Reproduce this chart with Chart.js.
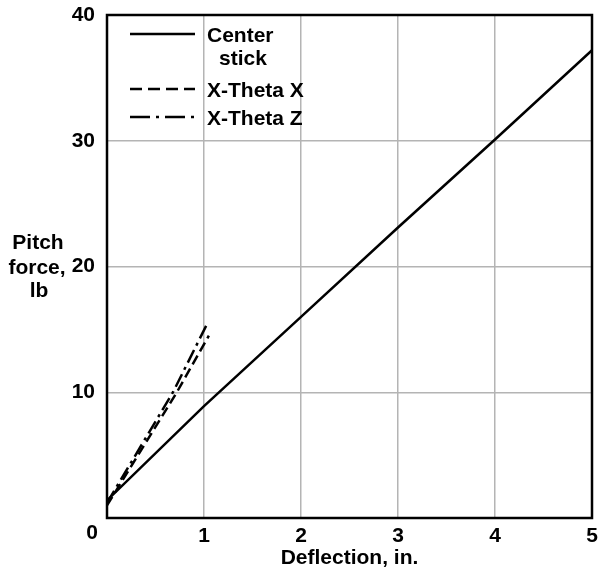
<!DOCTYPE html>
<html>
<head>
<meta charset="utf-8">
<script src="https://cdn.jsdelivr.net/npm/chart.js@4"></script>
<style>
  html, body { margin: 0; padding: 0; background: #fff; }
  #wrap { width: 603px; height: 577px; }
</style>
</head>
<body>
<div id="wrap"><canvas id="forceChart" width="603" height="577"></canvas></div>
<script>
  // values
  const centerX = [0, 1, 2, 3, 4, 5];
  const centerY = [1.4, 8.9, 16, 23.1, 30.1, 37.2];
  const thetaXX = [0, 0.72, 1.05];
  const thetaXY = [1.0, 10, 14.5];
  const thetaZX = [0, 0.68, 1.03];
  const thetaZY = [1.2, 10, 15.4];
  const xTicks = [0, 1, 2, 3, 4, 5];
  const yTicks = [0, 10, 20, 30, 40];
  const seriesNames = ['Center', 'X-Theta X', 'X-Theta Z'];

  const FONT = '"Liberation Sans", Arial, Helvetica, sans-serif';
  const boldFont = { family: FONT, size: 21, weight: 'bold' };

  function toPoints(xs, ys) {
    return xs.map((x, i) => ({ x: x, y: ys[i] }));
  }

  // draws the box, legend and the free-standing labels
  const extras = {
    id: 'extras',
    afterDraw(chart) {
      const ctx = chart.ctx;
      const area = chart.chartArea;
      const xs = chart.scales.x;

      ctx.save();
      ctx.strokeStyle = '#000';
      ctx.lineWidth = 2.5;
      ctx.strokeRect(area.left, area.top, area.right - area.left, area.bottom - area.top);

      ctx.font = 'bold 21px ' + FONT;
      ctx.fillStyle = '#000';
      ctx.textBaseline = 'alphabetic';

      // legend
      const sets = chart.data.datasets;
      const rows = [34, 89, 117];
      ctx.textAlign = 'left';
      sets.forEach((ds, i) => {
        ctx.beginPath();
        ctx.setLineDash(ds.legendDash || []);
        ctx.lineWidth = ds.borderWidth;
        ctx.strokeStyle = ds.borderColor;
        ctx.moveTo(130, rows[i]);
        ctx.lineTo(195, rows[i]);
        ctx.stroke();
        ctx.fillText(seriesNames[i], 207, rows[i] + 8);
      });
      ctx.setLineDash([]);
      ctx.fillText('stick', 219, 65);

      // origin label, set off to the left
      ctx.textAlign = 'center';
      ctx.fillText('0', xs.getPixelForValue(0) - 15, 539);

      // axis titles
      ctx.fillText('Deflection, in.', (area.left + area.right) / 2, 564);
      ctx.fillText('Pitch', 38, 249);
      ctx.fillText('force,', 37, 274);
      ctx.fillText('lb', 39, 297);
      ctx.restore();
    }
  };

  new Chart(document.getElementById('forceChart'), {
    type: 'line',
    data: {
      datasets: [
        {
          label: 'Center stick',
          data: toPoints(centerX, centerY),
          borderColor: '#000',
          borderWidth: 2.5,
          pointRadius: 0,
          tension: 0
        },
        {
          label: 'X-Theta X',
          data: toPoints(thetaXX, thetaXY),
          borderColor: '#000',
          borderWidth: 2.5,
          borderDash: [10, 5],
          legendDash: [12, 6],
          pointRadius: 0,
          tension: 0
        },
        {
          label: 'X-Theta Z',
          data: toPoints(thetaZX, thetaZY),
          borderColor: '#000',
          borderWidth: 2.5,
          borderDash: [14, 5, 3, 5],
          legendDash: [20, 6, 3, 6],
          pointRadius: 0,
          tension: 0
        }
      ]
    },
    options: {
      responsive: false,
      animation: false,
      layout: { padding: { top: 15, right: 11, left: 0, bottom: 0 } },
      plugins: {
        legend: { display: false },
        tooltip: { enabled: false }
      },
      scales: {
        x: {
          type: 'linear',
          min: 0,
          max: 5,
          afterBuildTicks: (s) => { s.ticks = xTicks.map(v => ({ value: v })); },
          afterFit: (s) => { s.height = 59; s.paddingLeft = 0; s.paddingRight = 0; },
          grid: { color: '#b4b4b4', lineWidth: 1.5, drawTicks: false },
          border: { display: false },
          ticks: {
            font: boldFont,
            color: '#000',
            padding: 6,
            maxRotation: 0,
            callback: (v) => (v === 0 ? '' : String(v))
          }
        },
        y: {
          type: 'linear',
          min: 0,
          max: 40,
          afterBuildTicks: (s) => { s.ticks = yTicks.map(v => ({ value: v })); },
          afterFit: (s) => { s.width = 107; s.paddingTop = 0; s.paddingBottom = 0; },
          grid: { color: '#b4b4b4', lineWidth: 1.5, drawTicks: false },
          border: { display: false },
          ticks: {
            font: boldFont,
            color: '#000',
            padding: 12,
            callback: (v) => (v === 0 ? '' : String(v))
          }
        }
      }
    },
    plugins: [extras]
  });
</script>
</body>
</html>
